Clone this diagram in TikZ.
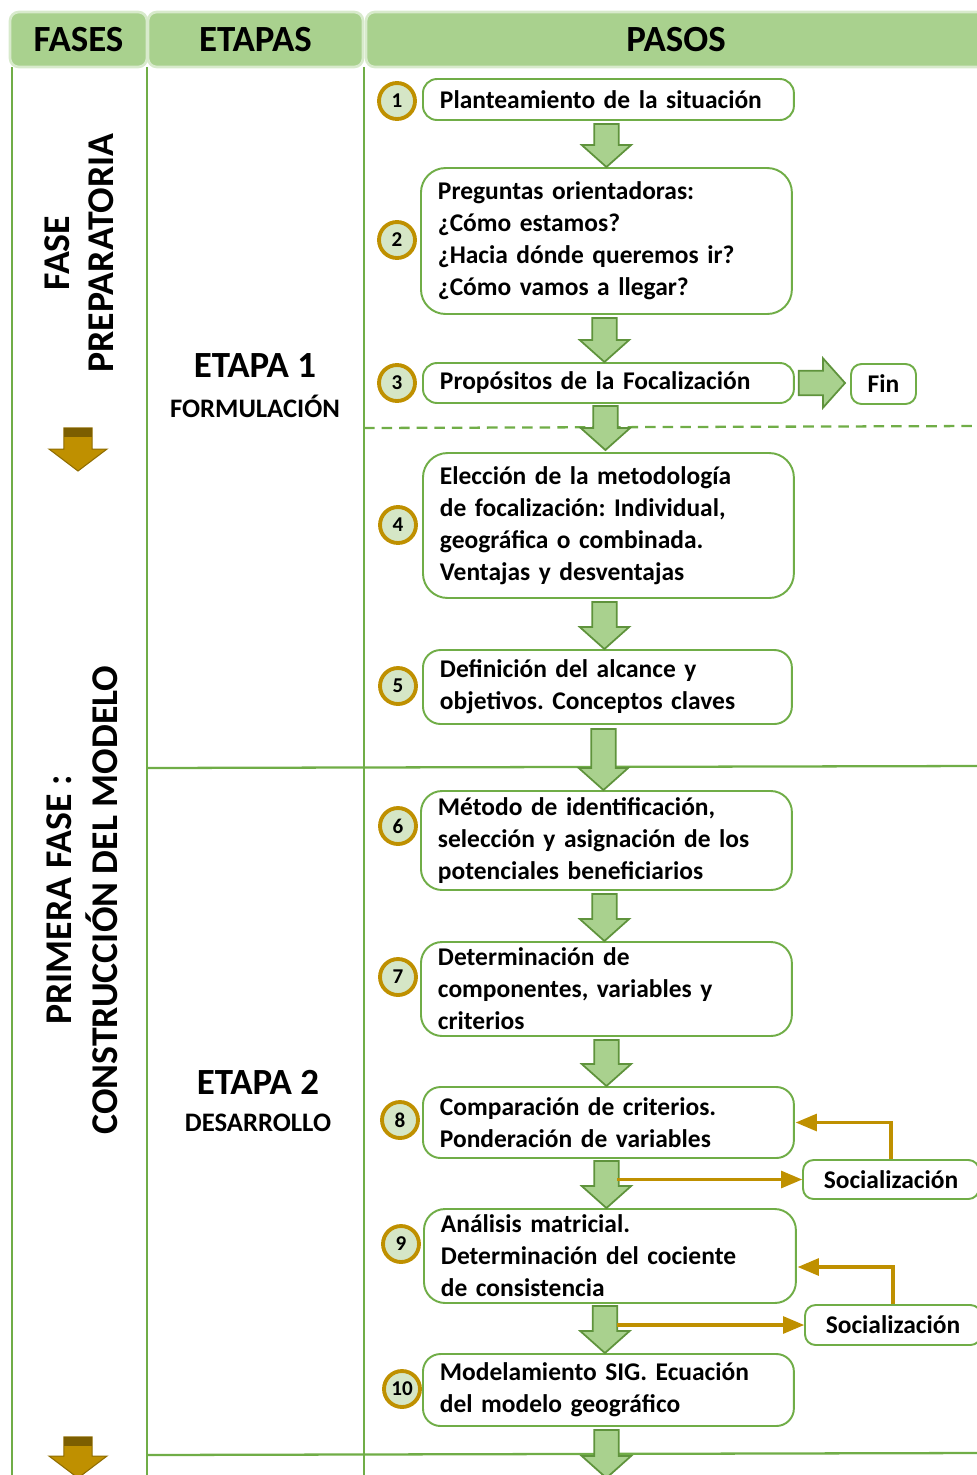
\documentclass[tikz,border=0pt]{standalone}
\usepackage{fontspec}
\setmainfont{Carlito}
\usepackage{tikz}
\usetikzlibrary{shapes,arrows,calc}
\frenchspacing
\definecolor{verde}{HTML}{70AD47}
\definecolor{verdec}{HTML}{A9D18E}
\definecolor{oro}{HTML}{BF9000}
\definecolor{circ}{HTML}{D5E6C6}
\tikzstyle{cab} = [draw=verdec!45!white, fill=verdec, line width=1.5pt, rounded corners=5pt, font=\bfseries\fontsize{21}{24}\selectfont]
\tikzstyle{paso} = [draw=verde, line width=1.1pt, rounded corners=8pt, fill=white, anchor=west, align=left, inner xsep=0.34cm, font=\bfseries\fontsize{14.5}{18.2}\selectfont]
\tikzstyle{caja} = [draw=verde, line width=1.1pt, rounded corners=6pt, fill=white, font=\bfseries\fontsize{14.5}{18.2}\selectfont]
\tikzstyle{num} = [circle, draw=oro, line width=2.2pt, fill=circ, minimum size=0.72cm, inner sep=0pt, font=\bfseries\fontsize{12}{12}\selectfont]
\tikzstyle{fase} = [rotate=90, align=center, font=\bfseries\fontsize{21.5}{25}\selectfont]
\tikzstyle{linea} = [draw=verde, line width=1.3pt]
\tikzstyle{flecha} = [draw=verde!85!black, fill=verdec, line width=1pt, line join=miter]
\tikzstyle{soc} = [->, >=triangle 45, draw=oro, line width=1.8pt]
% flechas de bloque
\newcommand{\bajar}[2]{\path[flecha] let \p1=#1, \p2=#2 in (\x1-7pt,\y1) -- (\x1+7pt,\y1) -- (\x1+7pt,\y2+12.5pt) -- (\x1+14pt,\y2+12.5pt) -- (\x1,\y2) -- (\x1-14pt,\y2+12.5pt) -- (\x1-7pt,\y2+12.5pt) -- cycle;}
\newcommand{\derecha}[2]{\path[flecha] let \p1=#1, \p2=#2 in (\x1,\y1+7pt) -- (\x2-12.5pt,\y1+7pt) -- (\x2-12.5pt,\y1+14pt) -- (\x2,\y1) -- (\x2-12.5pt,\y1-14pt) -- (\x2-12.5pt,\y1-7pt) -- (\x1,\y1-7pt) -- cycle;}
\newcommand{\fasebajar}[2]{\path[draw=oro!75!black, fill=oro, line width=0.6pt] let \p1=#1, \p2=#2 in (\x1-8pt,\y1) -- (\x1+8pt,\y1) -- (\x1+8pt,\y2+12.5pt) -- (\x1+16.5pt,\y2+12.5pt) -- (\x1,\y2) -- (\x1-16.5pt,\y2+12.5pt) -- (\x1-8pt,\y2+12.5pt) -- cycle;
  \fill[oro!65!black] let \p1=#1 in (\x1-8pt,\y1) rectangle (\x1+8pt,\y1-5pt);}

\begin{document}
\begin{tikzpicture}[x=0.02cm, y=-0.02cm]
\useasboundingbox (0,0) rectangle (977,1475);

% cabecera
\node[cab, minimum width=2.74cm, minimum height=1.1cm] (fases) at (78.5,39.5) {FASES};
\node[cab, minimum width=4.3cm, minimum height=1.1cm] (etapas) at (255.5,39.5) {ETAPAS};
\node[cab, minimum width=12.4cm, minimum height=1.1cm] (pasos) at (676,39.5) {PASOS};

% rejilla
\draw[linea] (12,67) -- (12,1480);
\draw[linea] (147,67) -- (147,1480);
\draw[linea] (364,67) -- (364,1480);
\draw[linea] (147,768) -- (980,766);
\draw[linea] (147,1455) -- (980,1453);
\draw[linea, dashed, dash pattern=on 6pt off 4pt] (364,428) -- (980,426);

% fases
\node[fase] (prep) at (79,253) {FASE\\PREPARATORIA};
\node[fase, font=\bfseries\fontsize{21.5}{26}\selectfont] (cons) at (82,900) {PRIMERA FASE :\\CONSTRUCCIÓN DEL MODELO};
\coordinate (fa1) at (78,428);
\coordinate (fb1) at (78,471);
\coordinate (fa2) at (78,1437);
\coordinate (fb2) at (78,1478);
\fasebajar{(fa1)}{(fb1)}
\fasebajar{(fa2)}{(fb2)}

% etapas
\node[align=center] (et1) at (255,386) {{\bfseries\fontsize{21}{24}\selectfont ETAPA 1}\\[9pt]{\bfseries\fontsize{15.2}{17}\selectfont FORMULACIÓN}};
\node[align=center] (et2) at (258,1101) {{\bfseries\fontsize{21}{24}\selectfont ETAPA 2}\\[9pt]{\bfseries\fontsize{15.2}{17}\selectfont DESARROLLO}};

% pasos
\node[paso, minimum width=7.42cm, text width=6.74cm, minimum height=0.82cm] (b1) at (422,99.5) {Planteamiento de la situación};
\node[paso, minimum width=7.42cm, text width=6.74cm, minimum height=2.92cm, rounded corners=14pt] (b2) at (420,241) {Preguntas orientadoras:\\¿Cómo estamos?\\¿Hacia dónde queremos ir?\\¿Cómo vamos a llegar?};
\node[paso, minimum width=7.42cm, text width=6.74cm, minimum height=0.8cm] (b3) at (422,383) {Propósitos de la Focalización};
\node[caja, minimum width=1.3cm, minimum height=0.8cm] (fin) at (883.5,384) {Fin};
\node[paso, minimum width=7.42cm, text width=6.74cm, minimum height=2.9cm, rounded corners=14pt] (b4) at (422,525.5) {Elección de la metodología\\de focalización: Individual,\\geográfica o combinada.\\Ventajas y desventajas};
\node[paso, minimum width=7.38cm, text width=6.7cm, minimum height=1.48cm, rounded corners=10pt] (b5) at (422,687) {Definición del alcance y\\objetivos. Conceptos claves};
\node[paso, minimum width=7.42cm, text width=6.74cm, minimum height=1.98cm, rounded corners=12pt] (b6) at (420,840.5) {Método de identificación,\\selección y asignación de los\\potenciales beneficiarios};
\node[paso, minimum width=7.42cm, text width=6.74cm, minimum height=1.88cm, rounded corners=12pt] (b7) at (420,989) {Determinación de\\componentes, variables y\\criterios};
\node[paso, minimum width=7.42cm, text width=6.74cm, minimum height=1.42cm, rounded corners=10pt] (b8) at (422,1122.5) {Comparación de criterios.\\Ponderación de variables};
\node[caja, minimum width=3.52cm, minimum height=0.78cm] (s1) at (891,1179.5) {Socialización};
\node[paso, minimum width=7.44cm, text width=6.76cm, minimum height=1.88cm, rounded corners=12pt] (b9) at (423,1256) {Análisis matricial.\\Determinación del cociente\\de consistencia};
\node[caja, minimum width=3.52cm, minimum height=0.8cm] (s2) at (893,1325) {Socialización};
\node[paso, minimum width=7.42cm, text width=6.74cm, minimum height=1.44cm, rounded corners=10pt] (b10) at (422,1390) {Modelamiento SIG. Ecuación\\del modelo geográfico};
\coordinate (sal) at (605,1478);

% numeros
\node[num] (n1) at (397,101) {1};
\node[num] (n2) at (397,240) {2};
\node[num] (n3) at (397,383) {3};
\node[num] (n4) at (398,525) {4};
\node[num] (n5) at (398,686) {5};
\node[num] (n6) at (398,826) {6};
\node[num] (n7) at (398,977) {7};
\node[num] (n8) at (400,1120) {8};
\node[num] (n9) at (401,1244) {9};
\node[num] (n10) at (402,1389) {10};

% flechas verdes
\bajar{($(b1.south)+(-2,3)$)}{(b2.north)}
\bajar{($(b2.south)+(-2,3)$)}{(b3.north)}
\bajar{($(b3.south)+(-3,2)$)}{($(b4.north)+(0,-2)$)}
\bajar{($(b4.south)+(-4,3)$)}{(b5.north)}
\bajar{($(b5.south)+(-4,4)$)}{(b6.north)}
\bajar{($(b6.south)+(-2,3)$)}{(b7.north)}
\bajar{($(b7.south)+(0,3)$)}{(b8.north)}
\bajar{($(b8.south)+(-2,2)$)}{(b9.north)}
\bajar{($(b9.south)+(-5,2)$)}{(b10.north)}
\bajar{($(b10.south)+(-2,3)$)}{(sal)}
\derecha{($(b3.east)+(4,0)$)}{($(fin.west)+(-5,0)$)}

% socializacion
\coordinate (c8) at (617,1179.5);
\coordinate (c9) at (617,1325);
\draw[soc] (c8) -- (s1.west);
\draw[soc] (s1.north) |- ($(b8.east)+(1,0)$);
\draw[soc] (c9) -- (s2.west);
\draw[soc] (s2.north) |- ($(b9.east)+(1,11)$);

\end{tikzpicture}
\end{document}
